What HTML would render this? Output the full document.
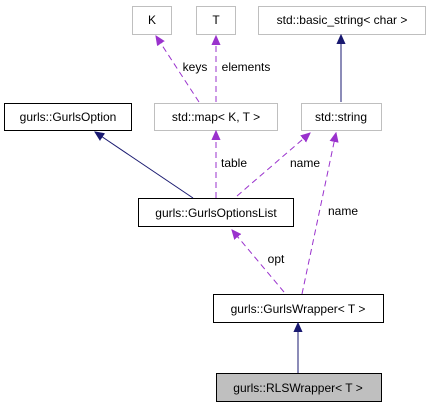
<!DOCTYPE html>
<html><head><style>body{margin:0;background:#fff}svg{display:block}text{font-family:"Liberation Sans",sans-serif;font-size:12px;fill:#000}</style></head><body>
<svg width="429" height="408" viewBox="0 0 429 408">
<defs>
<marker id="p" markerWidth="10" markerHeight="10" refX="9" refY="5" orient="auto" markerUnits="userSpaceOnUse"><path d="M0,1 L9,5 L0,9 Z" fill="#9a32cd" stroke="#9a32cd"/></marker>
<marker id="n" markerWidth="10" markerHeight="10" refX="9" refY="5" orient="auto" markerUnits="userSpaceOnUse"><path d="M0,1 L9,5 L0,9 Z" fill="#191970" stroke="#191970"/></marker>
</defs>
<g fill="#fff" stroke="#bfbfbf">
<rect x="132.5" y="6.5" width="39" height="28"/>
<rect x="196.5" y="6.5" width="39" height="28"/>
<rect x="258.5" y="6.5" width="167" height="28"/>
<rect x="154.5" y="103.5" width="123" height="27"/>
<rect x="301.5" y="103.5" width="80" height="27"/>
</g>
<g fill="#fff" stroke="#000">
<rect x="4.5" y="103.5" width="127" height="27"/>
<rect x="138.5" y="198.5" width="155" height="28"/>
<rect x="213.5" y="294.5" width="170" height="28"/>
<rect x="216.5" y="373.5" width="165" height="28" fill="#bfbfbf"/>
</g>
<g stroke="#191970" fill="none">
<line x1="193" y1="198" x2="95" y2="132" marker-end="url(#n)"/>
<line x1="341" y1="102" x2="341" y2="35" marker-end="url(#n)"/>
<line x1="298" y1="373" x2="298" y2="323" marker-end="url(#n)"/>
</g>
<g stroke="#9a32cd" fill="none" stroke-dasharray="6,4">
<line x1="216" y1="198" x2="216" y2="131" marker-end="url(#p)"/>
<line x1="237" y1="196" x2="310" y2="133" marker-end="url(#p)"/>
<line x1="302" y1="294" x2="336" y2="133" marker-end="url(#p)"/>
<line x1="284" y1="292" x2="232" y2="230" marker-end="url(#p)"/>
<line x1="199" y1="102" x2="156" y2="36" marker-end="url(#p)"/>
<line x1="216" y1="102" x2="216" y2="36" marker-end="url(#p)"/>
</g>
<g text-anchor="middle">
<text x="152" y="24">K</text>
<text x="216" y="24">T</text>
<text x="342" y="24">std::basic_string&lt; char &gt;</text>
<text x="68" y="121">gurls::GurlsOption</text>
<text x="216" y="121">std::map&lt; K, T &gt;</text>
<text x="341" y="121">std::string</text>
<text x="216" y="217">gurls::GurlsOptionsList</text>
<text x="298" y="313">gurls::GurlsWrapper&lt; T &gt;</text>
<text x="298" y="392">gurls::RLSWrapper&lt; T &gt;</text>
<text x="195" y="71">keys</text>
<text x="246" y="71">elements</text>
<text x="234" y="167">table</text>
<text x="305" y="167">name</text>
<text x="343" y="215">name</text>
<text x="276" y="263">opt</text>
</g>
</svg>
</body></html>
